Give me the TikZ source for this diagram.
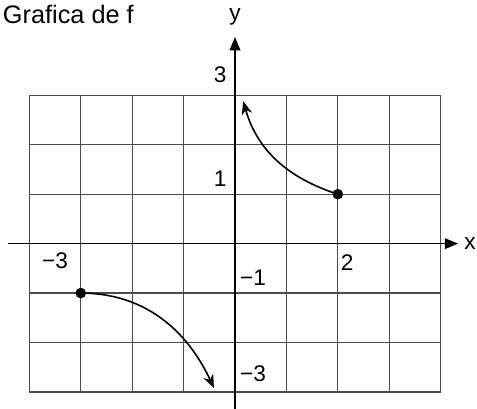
\documentclass[tikz,border=0pt]{standalone}
\usepackage{fontspec}
\setmainfont{Liberation Sans}
\usetikzlibrary{arrows.meta}

\begin{document}
\begin{tikzpicture}[
        x=1.356cm, y=1.304cm,
        gridline/.style={draw=black!70, line width=1pt},
        axis/.style={-{Triangle[length=10pt, width=8pt]}, line width=1.1pt},
        curve/.style={-{Stealth[length=10pt, width=8pt]}, line width=1.2pt},
        dot/.style={circle, fill=black, inner sep=0pt, minimum size=8pt},
        tick/.style={font=\fontsize{17}{20}\selectfont, inner sep=0pt},
        title/.style={font=\fontsize{19}{23}\selectfont, inner sep=0pt, anchor=base west}
    ]
        \useasboundingbox (-4.572,-3.327) rectangle (4.708,4.929);
        \node[title] (head) at (-4.52,4.45) {Grafica de f};
        % grid and axes
        \foreach \i in {-4,...,4}
            \draw[gridline] (\i,-3) -- (\i,3);
        \foreach \j in {-3,...,3}
            \draw[gridline] (-4,\j) -- (4,\j);
        \coordinate (xs) at (-4.42,0);
        \coordinate (xe) at (4.34,0);
        \coordinate (ys) at (0,-3.4);
        \coordinate (ye) at (0,4.18);
        \draw[axis] (xs) -- (xe);
        \draw[axis] (ys) -- (ye);
        \node[tick] (xlab) at (4.57,0) {x};
        \node[tick] (ylab) at (0,4.58) {y};
        % tick labels
        \node[tick] (t3) at (-0.29,3.41) {3};
        \node[tick] (t1) at (-0.29,1.32) {1};
        \node[tick] (t2) at (2.18,-0.385) {2};
        \node[tick] (tm1) at (0.35,-0.69) {−1};
        \node[tick] (tm3) at (0.35,-2.64) {−3};
        \node[tick] (tmx3) at (-3.5,-0.345) {−3};
        % graph of f
        \node[dot] (pa) at (2,1) {};
        \node[dot] (pb) at (-3,-1) {};
        \coordinate (ea) at (0.16,2.88);
        \coordinate (eb) at (-0.41,-2.92);
        \draw[curve] (pa.center) to[out=162, in=-74] (ea);
        \draw[curve] (pb.center) to[out=0, in=115] (eb);
\end{tikzpicture}
\end{document}
